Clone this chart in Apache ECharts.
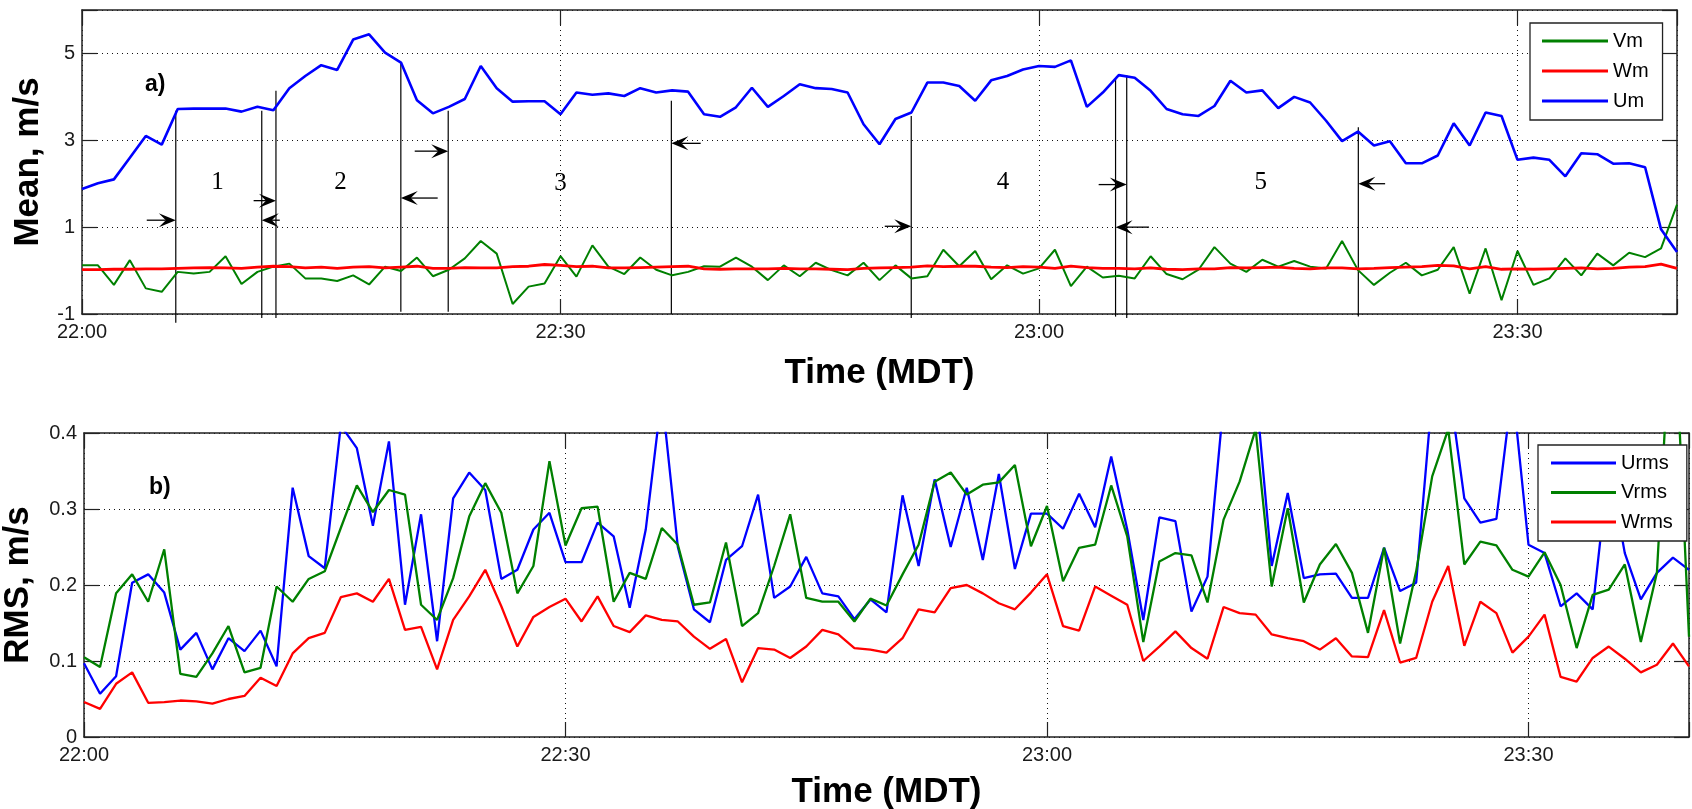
<!DOCTYPE html>
<html>
<head>
<meta charset="utf-8">
<script src="https://cdn.jsdelivr.net/npm/echarts/dist/echarts.min.js"></script>
<style>
  html, body { margin: 0; padding: 0; background: #fff; }
  #chart { width: 1692px; height: 809px; }
</style>
</head>
<body>
<div id="chart"></div>
<script>
// One-minute samples, minute 0 = 22:00 MDT, minute 100 = 23:40 MDT
const timeTickLabels = ['22:00', '22:30', '23:00', '23:30'];
const meanTickLabels = [-1, 1, 3, 5];
const rmsTickLabels = ['0', '0.1', '0.2', '0.3', '0.4'];

// a) mean wind components, m/s
const Um = [1.88, 2.01, 2.10, 2.60, 3.10, 2.90, 3.72, 3.73, 3.73, 3.73,
  3.66, 3.77, 3.69, 4.20, 4.48, 4.73, 4.62, 5.32, 5.44, 5.02,
  4.79, 3.92, 3.62, 3.77, 3.95, 4.71, 4.20, 3.89, 3.90, 3.90,
  3.60, 4.10, 4.05, 4.08, 4.02, 4.20, 4.10, 4.15, 4.12, 3.60,
  3.54, 3.76, 4.21, 3.77, 4.02, 4.29, 4.20, 4.18, 4.10, 3.37,
  2.91, 3.49, 3.64, 4.33, 4.33, 4.25, 3.91, 4.38, 4.48, 4.63,
  4.71, 4.69, 4.84, 3.77, 4.10, 4.50, 4.44, 4.14, 3.72, 3.60,
  3.56, 3.79, 4.37, 4.10, 4.15, 3.74, 4.00, 3.87, 3.45, 2.98,
  3.20, 2.88, 2.98, 2.47, 2.47, 2.65, 3.39, 2.88, 3.64, 3.56,
  2.55, 2.60, 2.55, 2.17, 2.70, 2.68, 2.46, 2.47, 2.38, 0.95,
  0.43];
const Vm = [0.12, 0.12, -0.33, 0.24, -0.41, -0.49, -0.03, -0.07, -0.03, 0.33,
  -0.31, -0.03, 0.09, 0.16, -0.18, -0.18, -0.24, -0.11, -0.32, 0.09,
  -0.01, 0.30, -0.13, 0.02, 0.28, 0.68, 0.39, -0.77, -0.37, -0.30,
  0.33, -0.14, 0.58, 0.09, -0.08, 0.30, 0.02, -0.11, -0.03, 0.10,
  0.09, 0.30, 0.09, -0.22, 0.12, -0.13, 0.18, 0.01, -0.11, 0.18,
  -0.22, 0.12, -0.18, -0.13, 0.48, 0.10, 0.45, -0.20, 0.12, -0.07,
  0.05, 0.48, -0.36, 0.09, -0.16, -0.12, -0.18, 0.33, -0.08, -0.20,
  0.02, 0.54, 0.16, -0.03, 0.25, 0.09, 0.22, 0.09, 0.05, 0.68,
  0.01, -0.33, -0.05, 0.18, -0.11, 0.02, 0.54, -0.53, 0.51, -0.68,
  0.45, -0.33, -0.18, 0.28, -0.11, 0.39, 0.12, 0.41, 0.31, 0.51,
  1.52];
const Wm = [0.02, 0.02, 0.03, 0.03, 0.04, 0.04, 0.05, 0.06, 0.07, 0.06,
  0.05, 0.08, 0.10, 0.09, 0.06, 0.08, 0.05, 0.08, 0.09, 0.06,
  0.08, 0.10, 0.05, 0.05, 0.07, 0.06, 0.06, 0.09, 0.10, 0.14,
  0.12, 0.09, 0.10, 0.06, 0.06, 0.07, 0.08, 0.09, 0.10, 0.04,
  0.03, 0.04, 0.04, 0.04, 0.05, 0.04, 0.04, 0.03, 0.02, 0.05,
  0.06, 0.07, 0.08, 0.11, 0.09, 0.10, 0.10, 0.08, 0.07, 0.09,
  0.08, 0.05, 0.10, 0.07, 0.05, 0.05, 0.04, 0.06, 0.03, 0.02,
  0.04, 0.04, 0.07, 0.06, 0.07, 0.08, 0.05, 0.04, 0.06, 0.06,
  0.04, 0.05, 0.07, 0.08, 0.09, 0.12, 0.11, 0.04, 0.09, 0.03,
  0.04, 0.03, 0.04, 0.05, 0.06, 0.04, 0.05, 0.08, 0.09, 0.15,
  0.05];

// b) RMS of the wind components, m/s
const Urms = [0.097, 0.057, 0.080, 0.203, 0.214, 0.190, 0.115, 0.137, 0.089, 0.130,
  0.113, 0.140, 0.093, 0.328, 0.238, 0.222, 0.410, 0.380, 0.278, 0.389,
  0.174, 0.293, 0.126, 0.314, 0.348, 0.325, 0.208, 0.220, 0.273, 0.295,
  0.230, 0.230, 0.282, 0.264, 0.170, 0.273, 0.450, 0.250, 0.168, 0.151,
  0.233, 0.251, 0.319, 0.183, 0.198, 0.237, 0.189, 0.185, 0.155, 0.181,
  0.164, 0.318, 0.225, 0.339, 0.250, 0.328, 0.233, 0.346, 0.221, 0.294,
  0.294, 0.274, 0.320, 0.276, 0.369, 0.273, 0.154, 0.289, 0.284, 0.165,
  0.211, 0.440, 0.480, 0.460, 0.225, 0.321, 0.209, 0.214, 0.215, 0.183,
  0.183, 0.249, 0.192, 0.203, 0.450, 0.470, 0.314, 0.282, 0.287, 0.460,
  0.253, 0.242, 0.172, 0.189, 0.168, 0.360, 0.242, 0.181, 0.216, 0.236,
  0.220];
const Vrms = [0.105, 0.092, 0.189, 0.214, 0.178, 0.247, 0.083, 0.079, 0.110, 0.146,
  0.085, 0.091, 0.198, 0.178, 0.208, 0.218, 0.275, 0.331, 0.296, 0.325,
  0.319, 0.174, 0.154, 0.209, 0.290, 0.334, 0.295, 0.189, 0.225, 0.363,
  0.252, 0.301, 0.303, 0.178, 0.216, 0.208, 0.275, 0.253, 0.174, 0.177,
  0.256, 0.146, 0.163, 0.225, 0.293, 0.183, 0.178, 0.178, 0.152, 0.182,
  0.173, 0.214, 0.253, 0.336, 0.348, 0.319, 0.332, 0.335, 0.358, 0.251,
  0.304, 0.205, 0.249, 0.253, 0.331, 0.264, 0.125, 0.231, 0.242, 0.239,
  0.177, 0.286, 0.336, 0.405, 0.198, 0.301, 0.177, 0.227, 0.254, 0.216,
  0.137, 0.249, 0.123, 0.218, 0.343, 0.405, 0.227, 0.257, 0.252, 0.220,
  0.211, 0.243, 0.200, 0.117, 0.187, 0.194, 0.227, 0.125, 0.216, 0.600,
  0.132];
const Wrms = [0.046, 0.037, 0.070, 0.085, 0.045, 0.046, 0.048, 0.047, 0.044, 0.050,
  0.054, 0.078, 0.067, 0.110, 0.130, 0.137, 0.184, 0.189, 0.178, 0.208,
  0.141, 0.145, 0.089, 0.154, 0.185, 0.220, 0.172, 0.119, 0.158, 0.171,
  0.182, 0.152, 0.185, 0.146, 0.138, 0.160, 0.154, 0.152, 0.132, 0.116,
  0.129, 0.072, 0.117, 0.115, 0.104, 0.119, 0.141, 0.135, 0.117, 0.115,
  0.111, 0.130, 0.168, 0.164, 0.196, 0.200, 0.189, 0.176, 0.168, 0.190,
  0.214, 0.146, 0.140, 0.198, 0.186, 0.174, 0.100, 0.119, 0.139, 0.117,
  0.103, 0.171, 0.163, 0.161, 0.135, 0.130, 0.126, 0.115, 0.130, 0.106,
  0.105, 0.167, 0.098, 0.104, 0.178, 0.225, 0.120, 0.178, 0.163, 0.111,
  0.132, 0.161, 0.079, 0.073, 0.104, 0.119, 0.103, 0.085, 0.095, 0.123,
  0.093];

// Period boundaries marked in panel a): minute, top and bottom of each marker line (m/s)
const boundaryMinute = [5.88, 11.27, 12.16, 19.99, 22.96, 36.95, 51.99, 64.8, 65.5, 80.02];
const boundaryTop = [3.68, 3.68, 4.14, 4.79, 3.68, 3.91, 3.56, 4.41, 4.50, 3.30];
const boundaryBottom = [-1.2, -1.09, -1.09, -0.95, -0.95, -1.0, -1.09, -1.06, -1.09, -1.06];

// Arrows pointing at the boundaries: tip minute, tail minute, level (m/s)
const arrowTip = [5.88, 11.27, 12.16, 19.99, 22.96, 36.95, 51.99, 64.8, 65.5, 80.02];
const arrowTail = [4.06, 12.4, 10.76, 22.3, 20.86, 38.79, 50.33, 66.9, 63.74, 81.7];
const arrowLevel = [1.16, 1.16, 1.61, 1.67, 2.75, 2.93, 1.02, 1.0, 1.98, 2.0];

// Period numbers
const periodNames = ['1', '2', '3', '4', '5'];
const periodMinute = [8.5, 16.2, 30.0, 57.75, 73.9];
const periodLevel = [2.03, 2.03, 2.0, 2.03, 2.03];

const toPairs = arr => arr.map((v, i) => [i, v]);

const FONT = '"Liberation Sans", Arial, Helvetica, sans-serif';
const FRAME = { onZero: false, lineStyle: { color: '#222', width: 1.5 } };
const TICK_IN = { show: true, inside: true, length: 15, lineStyle: { color: '#222', width: 1.2 } };
const DOTTED = { show: true, lineStyle: { color: '#111', width: 1, type: [1, 4] } };
const TICK_LABEL = { color: '#1a1a1a', fontSize: 20, fontFamily: FONT };
const AXIS_NAME = { color: '#000', fontSize: 35, fontWeight: 'bold', fontFamily: FONT };

function timeAxis(gridIndex, withLabels) {
  return {
    type: 'value', gridIndex, min: 0, max: 100, interval: 30,
    position: withLabels ? 'bottom' : 'top',
    axisLine: FRAME, axisTick: TICK_IN,
    splitLine: withLabels ? DOTTED : { show: false },
    axisLabel: withLabels ? Object.assign({
      margin: 8,
      formatter: v => (v % 30 === 0 && timeTickLabels[v / 30] !== undefined) ? timeTickLabels[v / 30] : ''
    }, TICK_LABEL) : { show: false },
    name: withLabels ? 'Time (MDT)' : '',
    nameLocation: 'middle',
    nameGap: gridIndex === 0 ? 42 : 38,
    nameMoveOverlap: false,
    nameTextStyle: AXIS_NAME
  };
}

function valueAxis(gridIndex, withLabels, min, max, interval, formatter, name, nameGap) {
  return {
    type: 'value', gridIndex, min, max, interval,
    position: withLabels ? 'left' : 'right',
    axisLine: FRAME, axisTick: TICK_IN,
    splitLine: withLabels ? DOTTED : { show: false },
    axisLabel: withLabels ? Object.assign({ margin: 7, formatter }, TICK_LABEL) : { show: false },
    name: withLabels ? name : '',
    nameLocation: 'middle',
    nameGap,
    nameMoveOverlap: false,
    nameTextStyle: AXIS_NAME
  };
}

function lineSeries(name, data, color, width, xAxisIndex, yAxisIndex) {
  return {
    name, type: 'line', xAxisIndex, yAxisIndex,
    data: toPairs(data),
    symbol: 'none', showSymbol: false,
    lineStyle: { color, width },
    itemStyle: { color },
    animation: false,
    z: 3
  };
}

function legendBox(names, left, top, padding, itemWidth, itemGap) {
  return {
    data: names, orient: 'vertical', left, top, padding, itemWidth, itemGap,
    icon: 'rect', itemHeight: 3,
    backgroundColor: '#fff', borderColor: '#222', borderWidth: 1.3, borderRadius: 0,
    textStyle: { color: '#000', fontSize: 20, fontFamily: FONT, lineHeight: 20 },
    selectedMode: false
  };
}

const boundaryData = boundaryMinute.map((m, i) => [m, boundaryTop[i], boundaryBottom[i]]);
const arrowData = arrowTip.map((m, i) => [m, arrowLevel[i], arrowTail[i]]);
const periodData = periodMinute.map((m, i) => [m, periodLevel[i], i]);

const option = {
  backgroundColor: '#fff',
  animation: false,
  grid: [
    { left: 82, top: 10, width: 1595, height: 304, outerBoundsMode: 'none' },
    { left: 84, top: 433, width: 1605, height: 304, outerBoundsMode: 'none' }
  ],
  xAxis: [
    timeAxis(0, true), timeAxis(0, false),
    timeAxis(1, true), timeAxis(1, false)
  ],
  yAxis: [
    valueAxis(0, true, -1, 6, 2, v => meanTickLabels.includes(v) ? String(v) : '', 'Mean, m/s', 36),
    valueAxis(0, false, -1, 6, 2, null, '', 0),
    valueAxis(1, true, 0, 0.4, 0.1, v => {
      const k = Math.round(v / 0.1);
      return Math.abs(v - k * 0.1) < 1e-9 && rmsTickLabels[k] !== undefined ? rmsTickLabels[k] : '';
    }, 'RMS, m/s', 48),
    valueAxis(1, false, 0, 0.4, 0.1, null, '', 0)
  ],
  legend: [
    legendBox(['Vm', 'Wm', 'Um'], 1530, 23, [8, 14, 9, 12], 66, 10),
    legendBox(['Urms', 'Vrms', 'Wrms'], 1538, 445, [8, 14, 9, 13], 65, 9.5)
  ],
  graphic: [
    { type: 'text', left: 145, top: 73, style: { text: 'a)', font: 'bold 23px ' + FONT, fill: '#000' } },
    { type: 'text', left: 149, top: 476, style: { text: 'b)', font: 'bold 23px ' + FONT, fill: '#000' } }
  ],
  series: [
    // panel a)
    {
      type: 'custom', name: 'boundaries', xAxisIndex: 0, yAxisIndex: 0,
      data: boundaryData, encode: { x: 0, y: 1 }, silent: true, z: 2,
      renderItem: (params, api) => {
        const p1 = api.coord([api.value(0), api.value(1)]);
        const p2 = api.coord([api.value(0), api.value(2)]);
        return {
          type: 'line',
          shape: { x1: p1[0], y1: p1[1], x2: p2[0], y2: p2[1] },
          style: { stroke: '#000', lineWidth: 1.2 }
        };
      }
    },
    {
      type: 'custom', name: 'arrows', xAxisIndex: 0, yAxisIndex: 0,
      data: arrowData, encode: { x: 0, y: 1 }, silent: true, z: 4,
      renderItem: (params, api) => {
        const tip = api.coord([api.value(0), api.value(1)]);
        const tail = api.coord([api.value(2), api.value(1)]);
        const dir = tail[0] < tip[0] ? 1 : -1;
        const L = 17, W = 7, N = 10;
        return {
          type: 'group',
          children: [
            {
              type: 'line',
              shape: { x1: tail[0], y1: tail[1], x2: tip[0] - dir * N, y2: tip[1] },
              style: { stroke: '#000', lineWidth: 1.3 }
            },
            {
              type: 'polygon',
              shape: {
                points: [
                  [tip[0], tip[1]],
                  [tip[0] - dir * L, tip[1] - W],
                  [tip[0] - dir * N, tip[1]],
                  [tip[0] - dir * L, tip[1] + W]
                ]
              },
              style: { fill: '#000' }
            }
          ]
        };
      }
    },
    {
      type: 'custom', name: 'periods', xAxisIndex: 0, yAxisIndex: 0,
      data: periodData, encode: { x: 0, y: 1 }, silent: true, z: 4,
      renderItem: (params, api) => {
        const p = api.coord([api.value(0), api.value(1)]);
        return {
          type: 'text', x: p[0], y: p[1],
          style: {
            text: periodNames[api.value(2)],
            font: '25px "Liberation Serif", "Times New Roman", serif',
            fill: '#000', align: 'center', verticalAlign: 'middle'
          }
        };
      }
    },
    lineSeries('Vm', Vm, '#008000', 2, 0, 0),
    lineSeries('Wm', Wm, '#ff0000', 2.8, 0, 0),
    lineSeries('Um', Um, '#0000ff', 2.6, 0, 0),
    // panel b)
    lineSeries('Urms', Urms, '#0000ff', 2.3, 2, 2),
    lineSeries('Vrms', Vrms, '#008000', 2.3, 2, 2),
    lineSeries('Wrms', Wrms, '#ff0000', 2.3, 2, 2)
  ]
};

const chart = echarts.init(document.getElementById('chart'), null, { renderer: 'canvas' });
chart.setOption(option);
</script>
</body>
</html>
